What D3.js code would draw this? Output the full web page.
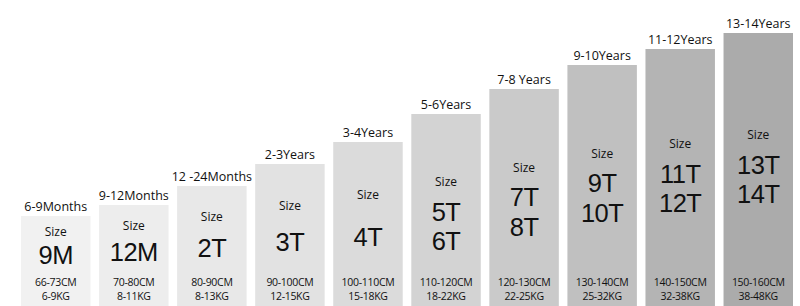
<!DOCTYPE html>
<html>
<head>
<meta charset="utf-8">
<script src="https://cdn.jsdelivr.net/npm/d3@7"></script>
<style>
  html, body { margin: 0; padding: 0; background: #ffffff; }
  svg { display: block; }
  text { font-family: "Open Sans", "Noto Sans", sans-serif; fill: #111; }
  text.big { font-family: "Liberation Sans", Arial, sans-serif; }
</style>
</head>
<body>
<svg id="chart" width="800" height="306"></svg>
<script>
// ---- data ----
const ageLabels = ["6-9Months", "9-12Months", "12 -24Months", "2-3Years", "3-4Years",
                   "5-6Years", "7-8 Years", "9-10Years", "11-12Years", "13-14Years"];
const sizeLabels = [["9M"], ["12M"], ["2T"], ["3T"], ["4T"],
                    ["5T", "6T"], ["7T", "8T"], ["9T", "10T"], ["11T", "12T"], ["13T", "14T"]];
const heightRanges = ["66-73CM", "70-80CM", "80-90CM", "90-100CM", "100-110CM",
                      "110-120CM", "120-130CM", "130-140CM", "140-150CM", "150-160CM"];
const weightRanges = ["6-9KG", "8-11KG", "8-13KG", "12-15KG", "15-18KG",
                      "18-22KG", "22-25KG", "25-32KG", "32-38KG", "38-48KG"];
// relative bar heights
const barValues = [90, 101, 120, 142, 164, 192, 217, 241, 257, 273];

// ---- style ----
const palette = ["#f1f1f1", "#ededed", "#e8e8e8", "#e2e2e2", "#dbdbdb",
                 "#d3d3d3", "#cacaca", "#c0c0c0", "#b4b4b4", "#ababab"];

const W = 800, H = 306;
const svg = d3.select("#chart");

const x = d3.scaleBand().domain(ageLabels).range([21, 793]).paddingInner(0.11).paddingOuter(0);
const y = d3.scaleLinear().domain([0, 273]).range([H, 33]);

const rows = ageLabels.map((a, i) => ({
  age: a, sizes: sizeLabels[i], cm: heightRanges[i], kg: weightRanges[i], v: barValues[i], i
}));

const g = svg.selectAll("g.bar").data(rows).join("g").attr("class", "bar");

g.append("rect")
  .attr("x", d => x(d.age))
  .attr("y", d => y(d.v))
  .attr("width", x.bandwidth())
  .attr("height", d => H - y(d.v))
  .attr("fill", d => palette[d.i]);

const cx = d => x(d.age) + x.bandwidth() / 2;

// age label above bar
g.append("text")
  .attr("x", cx)
  .attr("y", d => y(d.v) - 10)
  .attr("text-anchor", "middle")
  .attr("dominant-baseline", "central")
  .attr("font-size", 12.5)
  .text(d => d.age);

function sizeY(d) {
  const t = y(d.v);
  return d.sizes.length > 1 ? t + 0.42 * (275 - t) : t / 2 + 123;
}

g.append("text")
  .attr("x", cx)
  .attr("y", sizeY)
  .attr("text-anchor", "middle")
  .attr("dominant-baseline", "central")
  .attr("font-size", 12)
  .text("Size");

// big size label(s)
g.each(function(d) {
  const sy = sizeY(d);
  const first = d.sizes.length > 1 ? sy + 30 : (sy + 282) / 2 - 1.5;
  d.sizes.forEach((s, k) => {
    d3.select(this).append("text")
      .attr("class", "big")
      .attr("x", cx(d))
      .attr("y", first + k * 29.5)
      .attr("text-anchor", "middle")
      .attr("dominant-baseline", "central")
      .attr("font-size", 25.5)
      .attr("letter-spacing", -0.5)
      .text(s);
  });
});

g.append("text")
  .attr("x", cx)
  .attr("y", 282)
  .attr("text-anchor", "middle")
  .attr("dominant-baseline", "central")
  .attr("font-size", 10.5)
  .attr("letter-spacing", -0.3)
  .text(d => d.cm);

g.append("text")
  .attr("x", cx)
  .attr("y", 296)
  .attr("text-anchor", "middle")
  .attr("dominant-baseline", "central")
  .attr("font-size", 10.5)
  .attr("letter-spacing", -0.3)
  .text(d => d.kg);
</script>
</body>
</html>
